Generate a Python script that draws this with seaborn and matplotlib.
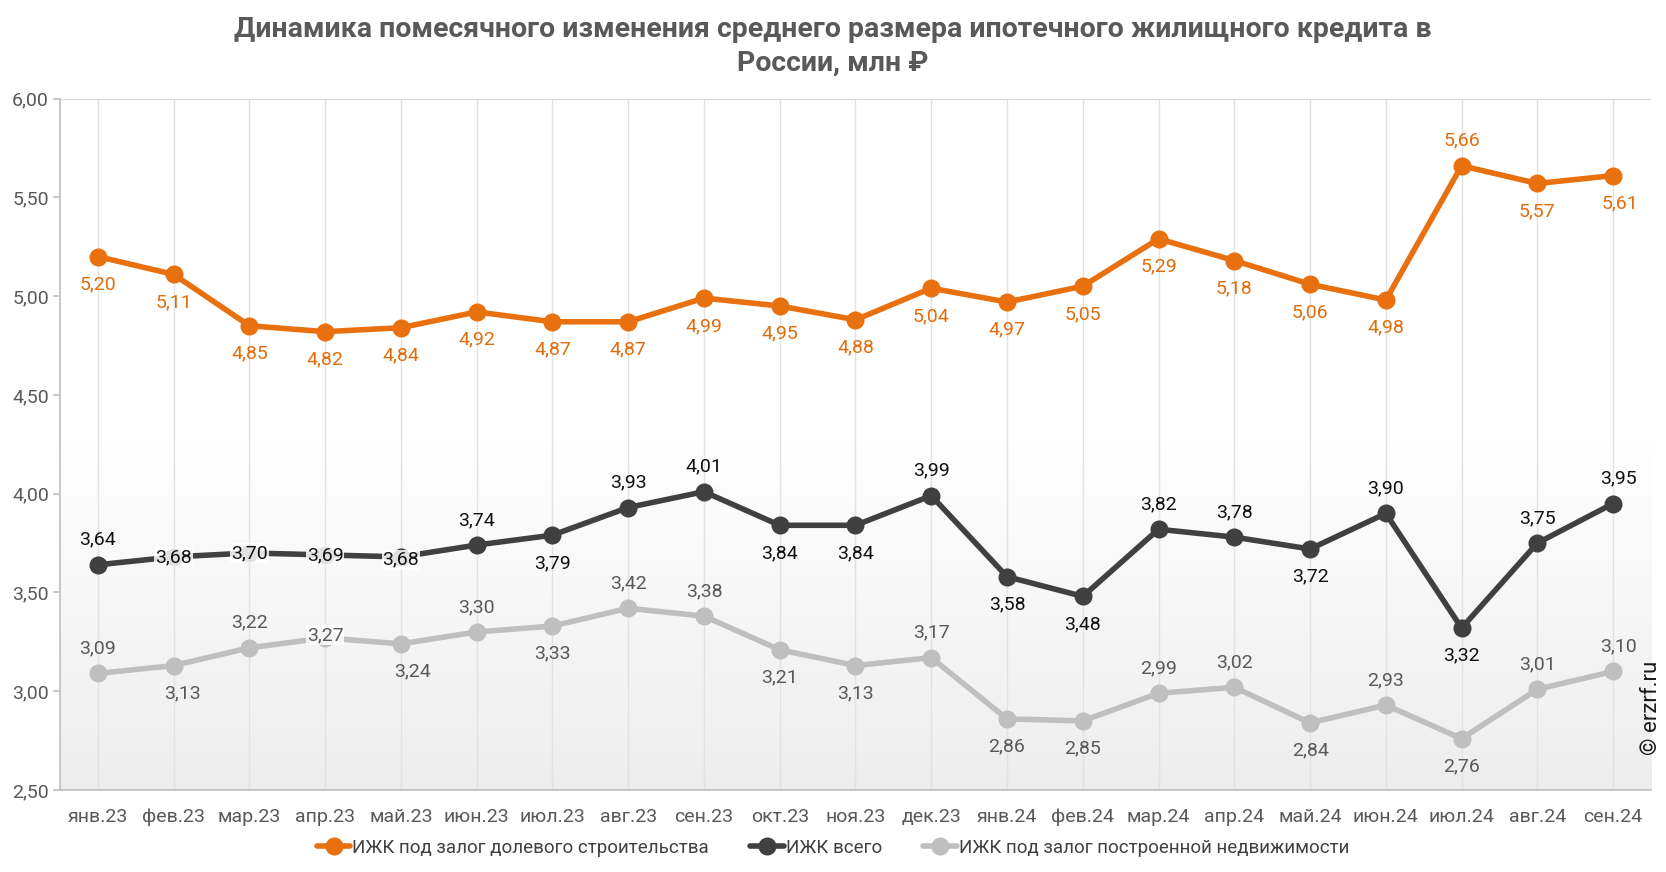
import numpy as np
import pandas as pd
import matplotlib
matplotlib.use("Agg")
import matplotlib.pyplot as plt
import seaborn as sns
from matplotlib.colors import LinearSegmentedColormap
from matplotlib.ticker import FuncFormatter

# Data
months = ["янв.23", "фев.23", "мар.23", "апр.23", "май.23", "июн.23", "июл.23",
          "авг.23", "сен.23", "окт.23", "ноя.23", "дек.23", "янв.24", "фев.24",
          "мар.24", "апр.24", "май.24", "июн.24", "июл.24", "авг.24", "сен.24"]
dolevoe = [5.20, 5.11, 4.85, 4.82, 4.84, 4.92, 4.87, 4.87, 4.99, 4.95, 4.88,
           5.04, 4.97, 5.05, 5.29, 5.18, 5.06, 4.98, 5.66, 5.57, 5.61]
vsego = [3.64, 3.68, 3.70, 3.69, 3.68, 3.74, 3.79, 3.93, 4.01, 3.84, 3.84,
         3.99, 3.58, 3.48, 3.82, 3.78, 3.72, 3.90, 3.32, 3.75, 3.95]
gotovoe = [3.09, 3.13, 3.22, 3.27, 3.24, 3.30, 3.33, 3.42, 3.38, 3.21, 3.13,
           3.17, 2.86, 2.85, 2.99, 3.02, 2.84, 2.93, 2.76, 3.01, 3.10]
series_names = ["ИЖК под залог долевого строительства", "ИЖК всего",
                "ИЖК под залог построенной недвижимости"]

# label placement (a = above, b = below, c = on the point)
place = [
    list("bbbbbbbbbbbbbbbbbbabb"),
    ["a", "c", "c", "c", "c", "a", "b", "a", "a", "b", "b",
     "a", "b", "b", "a", "a", "b", "a", "b", "a", "a"],
    ["a", "b", "a", "c", "b", "a", "b", "a", "a", "b", "b",
     "a", "b", "b", "a", "a", "b", "a", "b", "a", "a"],
]

colors = ["#E8700F", "#404040", "#BFBFBF"]
text_colors = ["#E36C0A", "#111111", "#595959"]

sns.set_theme(style="white")
plt.rcParams["font.family"] = ["Roboto", "DejaVu Sans"]

df = pd.concat([
    pd.DataFrame({"x": np.arange(len(months)), "value": vals, "series": name})
    for name, vals in zip(series_names, [dolevoe, vsego, gotovoe])
])

fig = plt.figure(figsize=(16.66, 8.72), dpi=100)
ax = fig.add_axes([0.036, 0.094, 0.955, 0.793])

# gradient background
grad = LinearSegmentedColormap.from_list("bg", ["#ffffff", "#ffffff", "#ededed"])
ax.imshow(np.linspace(0, 1, 256).reshape(-1, 1), cmap=grad, aspect="auto",
          extent=(-0.5, len(months) - 0.5, 2.5, 6.0), origin="upper", zorder=0)

for i in range(len(months)):
    ax.axvline(i, color="#e2e2e2", lw=1, zorder=1)
ax.axhline(6.0, color="#d9d9d9", lw=1, zorder=1)

sns.lineplot(data=df, x="x", y="value", hue="series", palette=colors,
             marker="o", markersize=13, markeredgewidth=0, linewidth=4,
             ax=ax, zorder=3, legend=True)

# data labels
shifts = {(0, 20): 5, (2, 1): 6, (2, 4): 8, (1, 20): 4, (2, 20): 4}
nudge = {(1, 4): -2, (2, 3): 2}
for si, vals in enumerate([dolevoe, vsego, gotovoe]):
    for i, v in enumerate(vals):
        p = place[si][i]
        dy = {"a": 18, "b": -20, "c": 0}[p] + nudge.get((si, i), 0)
        dx = shifts.get((si, i), 0)
        box = dict(boxstyle="square,pad=0.05", fc="white", ec="none", alpha=0.85) if p == "c" else None
        ax.annotate(f"{v:.2f}".replace(".", ","), (i, v), xytext=(dx, dy),
                    textcoords="offset points", ha="center", va="center",
                    fontsize=14, color=text_colors[si], bbox=box, zorder=5)

ax.set_xlim(-0.5, len(months) - 0.5)
ax.set_ylim(2.5, 6.0)
ax.set_yticks(np.arange(2.5, 6.01, 0.5))
ax.yaxis.set_major_formatter(FuncFormatter(lambda v, _: f"{v:.2f}".replace(".", ",")))
ax.set_xticks(range(len(months)))
ax.set_xticklabels(months)
ax.set_xticks(np.arange(-0.5, len(months), 1), minor=True)
ax.tick_params(axis="x", which="major", length=0, pad=13, labelsize=14, colors="#595959")
ax.tick_params(axis="x", which="minor", length=6, color="#bfbfbf", direction="out")
ax.tick_params(axis="y", length=5, color="#bfbfbf", labelsize=14, labelcolor="#595959",
               direction="out", left=True, pad=3)
ax.set_xlabel("")
ax.set_ylabel("")
for s in ["top", "right"]:
    ax.spines[s].set_visible(False)
for s in ["left", "bottom"]:
    ax.spines[s].set_color("#bfbfbf")
    ax.spines[s].set_linewidth(1.2)

handles, labels = ax.get_legend_handles_labels()
ax.get_legend().remove()
fig.legend(handles, labels, loc="center", bbox_to_anchor=(0.5, 0.028), ncol=3,
           frameon=False, fontsize=13.5, handlelength=1.8, handletextpad=0.1,
           columnspacing=2.2, labelcolor="#404040")

fig.text(0.5, 0.947, "Динамика помесячного изменения среднего размера ипотечного жилищного кредита в\nРоссии, млн ₽",
         ha="center", va="center", fontsize=20.5, fontweight="bold", color="#595959",
         linespacing=1.3)
fig.text(0.991, 0.188, "© erzrf.ru", rotation=90, ha="center", va="center",
         fontsize=16, color="#1a1a1a")

fig.savefig("out.png", dpi=100)
